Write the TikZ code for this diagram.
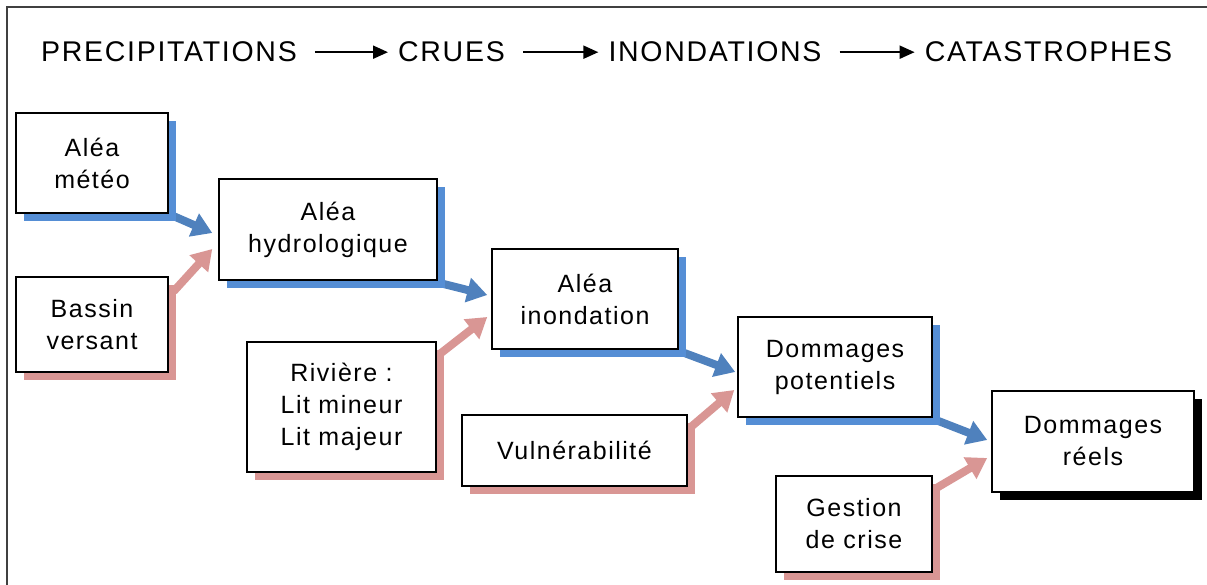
\documentclass[tikz,border=0pt]{standalone}
\usepackage{fontspec}
\setmainfont[LetterSpace=6]{Liberation Sans}
\usetikzlibrary{arrows.meta,shadows}
\definecolor{shBlue}{HTML}{558ED5}
\definecolor{arBlue}{HTML}{4F81BD}
\definecolor{shPink}{HTML}{D99694}
\pgfdeclarelayer{bg}
\pgfsetlayers{bg,main}
\begin{document}
\begin{tikzpicture}[x=1pt,y=-1pt,
  box/.style={draw=black, line width=1.5pt, fill=white, rectangle, align=center,
    inner sep=0pt, font=\fontsize{25}{32}\selectfont},
  sblue/.style={general shadow={fill=shBlue, shadow xshift=8pt, shadow yshift=-8pt}},
  spink/.style={general shadow={fill=shPink, shadow xshift=8pt, shadow yshift=-8pt}},
  sblack/.style={general shadow={fill=black, shadow xshift=8pt, shadow yshift=-8pt}},
  hdr/.style={font=\fontsize{28.5}{34}\selectfont, inner sep=0pt, anchor=base},
  harrow/.style={-{Triangle[length=15pt,width=13pt]}, line width=2pt,
    shorten <=18pt, shorten >=10pt},
  fat/.style={line width=8pt, -{Triangle[length=20pt,width=24pt]}},
]
\useasboundingbox (0,0) rectangle (1207,585);
\begin{pgfonlayer}{bg}
\fill[white] (0,0) rectangle (1207,585);
\end{pgfonlayer}
\draw[line width=1.3pt, draw=black!75] (7,585) -- (7,7) -- (1207,7);

% header
\node[hdr] (h1) at (169,62) {PRECIPITATIONS};
\node[hdr] (h2) at (451.5,62) {CRUES};
\node[hdr] (h3) at (715,62) {INONDATIONS};
\node[hdr] (h4) at (1048.5,62) {CATASTROPHES};
\draw[harrow] (h1.east) -- (h2.west);
\draw[harrow] (h2.east) -- (h3.west);
\draw[harrow] (h3.east) -- (h4.west);

% boxes
\node[box, sblue, minimum width=152pt, minimum height=100pt] (meteo) at (92,163) {Aléa\\météo};
\node[box, spink, minimum width=152pt, minimum height=95pt] (bassin) at (92,324.5) {Bassin\\versant};
\node[box, sblue, minimum width=218pt, minimum height=101pt] (hydro) at (328,229.5) {Aléa\\hydrologique};
\node[box, spink, minimum width=189pt, minimum height=130pt] (riviere) at (341.5,407) {Rivière :\\Lit mineur\\Lit majeur};
\node[box, sblue, minimum width=186pt, minimum height=100pt] (inond) at (585,299) {Aléa\\inondation};
\node[box, spink, minimum width=225pt, minimum height=71pt] (vuln) at (574.5,450.5) {Vulnérabilité};
\node[box, sblue, minimum width=194pt, minimum height=100pt] (pot) at (835,367) {Dommages\\potentiels};
\node[box, sblack, minimum width=202pt, minimum height=101pt] (reels) at (1093,441.5) {Dommages\\réels};
\node[box, spink, minimum width=156pt, minimum height=96pt] (gestion) at (854,524) {Gestion\\de crise};

% fat arrows
\begin{pgfonlayer}{bg}
\draw[fat, arBlue] ([shift={(4,2)}]meteo.south east) -- ([shift={(-6,3.5)}]hydro.west);
\draw[fat, shPink] ([shift={(5,15)}]bassin.north east) -- ([shift={(-6,19.5)}]hydro.west);
\draw[fat, arBlue] ([shift={(5,3)}]hydro.south east) -- ([shift={(-4,-4)}]inond.west);
\draw[fat, shPink] ([shift={(4,12)}]riviere.north east) -- ([shift={(-4,18)}]inond.west);
\draw[fat, arBlue] ([shift={(5,3)}]inond.south east) -- ([shift={(-2,5)}]pot.west);
\draw[fat, shPink] ([shift={(4,12)}]vuln.north east) -- ([shift={(-3,23)}]pot.west);
\draw[fat, arBlue] ([shift={(5,3)}]pot.south east) -- ([shift={(-4,-1.5)}]reels.west);
\draw[fat, shPink] ([shift={(5,12)}]gestion.north east) -- ([shift={(-4,16.5)}]reels.west);
\end{pgfonlayer}
\end{tikzpicture}
\end{document}
